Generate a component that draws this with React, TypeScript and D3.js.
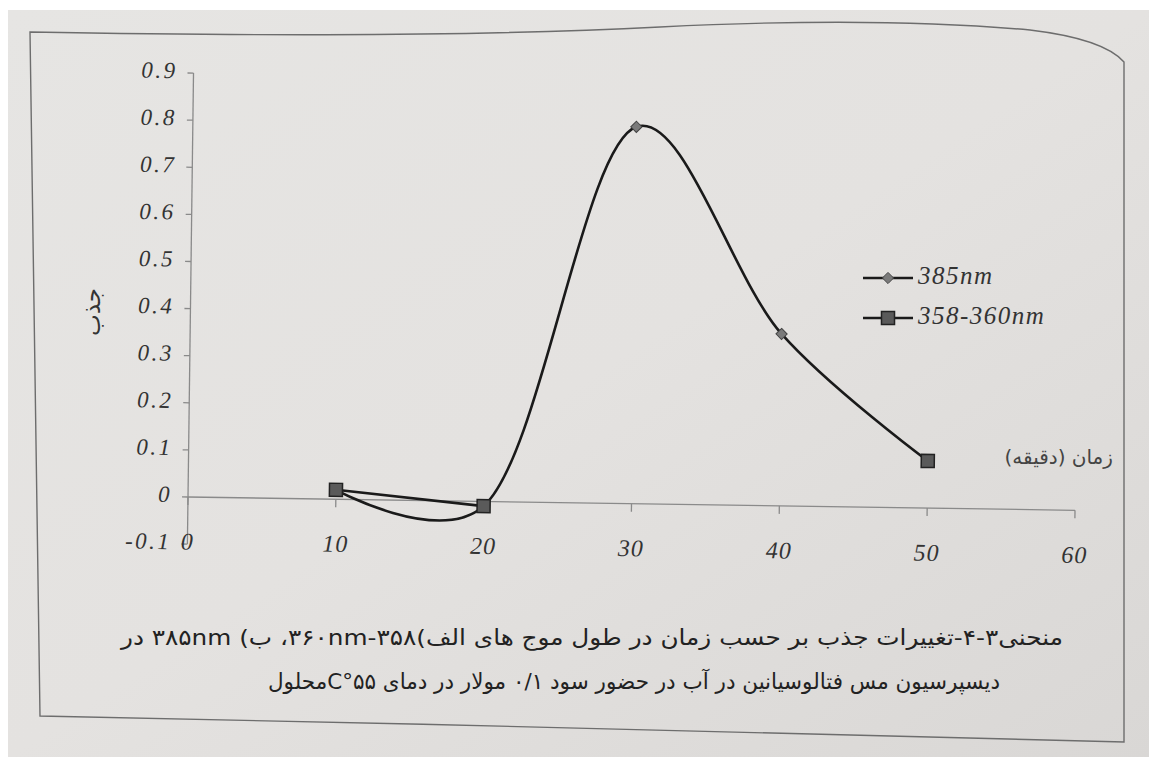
import * as d3 from "d3";

// values
const times = [10, 20, 30, 40, 50];
const abs385 = [0.02, -0.01, 0.8, 0.365, 0.1];
const abs358: (number | null)[] = [0.02, -0.01, null, null, 0.1];
const xTicks = [0, 10, 20, 30, 40, 50, 60];
const yTicks = [-0.1, 0, 0.1, 0.2, 0.3, 0.4, 0.5, 0.6, 0.7, 0.8, 0.9];
const yTickLabels = ["-0.1", "0", "0.1", "0.2", "0.3", "0.4", "0.5", "0.6", "0.7", "0.8", "0.9"];
const legendNames = ["385nm", "358-360nm"];
const yTitle = "جذب";
const xTitle = "زمان (دقیقه)";
const captionLines = [
  "منحنی۳-۴-تغییرات جذب بر حسب زمان در طول موج های الف)۳۵۸-۳۶۰nm، ب) ۳۸۵nm در",
  "دیسپرسیون مس فتالوسیانین در آب  در حضور سود ۰/۱ مولار در دمای ۵۵°Cمحلول",
];

const W = 1149;
const H = 757;
const serif = "'Liberation Serif', 'Times New Roman', serif";
const persian = "'DejaVu Sans', sans-serif";

const diamond = d3.symbol(d3.symbolDiamond2, 80)() || "";
const square = d3.symbol(d3.symbolSquare, 170)() || "";

const Marker = ({ kind, x, y }: { kind: string; x: number; y: number }) =>
  kind === "diamond" ? (
    <path d={diamond} transform={`translate(${x},${y})`} fill="#7a7a7a" stroke="#444" strokeWidth={1} />
  ) : (
    <path d={square} transform={`translate(${x},${y})`} fill="#5a5a5a" stroke="#222" strokeWidth={1.5} />
  );

const App = () => {
  // the page is photographed slightly skewed, so the plot sits in a warped frame
  const origin = [188, 497];
  const warp = "matrix(1,0.015,-0.013,1,0,0)";

  const x = d3.scaleLinear().domain([0, 60]).range([0, 887]);
  const y = d3.scaleLinear().domain([-0.1, 0.9]).range([47.1, -423.9]);

  const line385 =
    d3
      .line<number>()
      .x((_, i) => x(times[i]))
      .y((d) => y(d))
      .curve(d3.curveCatmullRom.alpha(0.25))(abs385) || "";

  const line358 =
    d3
      .line<number | null>()
      .defined((d) => d != null)
      .x((_, i) => x(times[i]))
      .y((d) => y(d as number))(abs358) || "";

  return (
    <svg
      width={W}
      height={H}
      viewBox={`0 0 ${W} ${H}`}
      style={{ position: "absolute", left: 0, top: 0 }}
    >
      <defs>
        <linearGradient id="paper" x1="0" y1="0" x2="1" y2="1">
          <stop offset="0" stopColor="#e6e5e3" />
          <stop offset="0.5" stopColor="#e4e2e0" />
          <stop offset="1" stopColor="#d9d7d5" />
        </linearGradient>
      </defs>
      <rect width={W} height={H} fill="#fff" />
      <rect x={8} y={10} width={W - 8} height={H - 10} fill="url(#paper)" />

      {/* figure frame of the page */}
      <path
        d="M30,32 C200,35 440,38 660,27 C800,20 920,20 1030,30 C1080,36 1110,46 1124,62 L1124,742 C800,735 400,722 40,716 Z"
        fill="none"
        stroke="#6d6d6d"
        strokeWidth={1.4}
      />

      <g transform={`translate(${origin[0]},${origin[1]}) ${warp}`}>
        {/* y axis */}
        <line x1={0} x2={0} y1={y(-0.1)} y2={y(0.9)} stroke="#8a8a8a" strokeWidth={1.3} />
        {yTicks.map((t, i) => (
          <g key={i} transform={`translate(0,${y(t)})`}>
            <line x1={-6} x2={0} stroke="#8a8a8a" strokeWidth={1.3} />
            <text
              x={-16}
              textAnchor="end"
              dominantBaseline="middle"
              fontFamily={serif}
              fontStyle="italic"
              fontSize={23}
              letterSpacing={2.5}
              fill="#333"
            >
              {yTickLabels[i]}
            </text>
          </g>
        ))}

        {/* x axis at zero */}
        <line x1={0} x2={x(60)} y1={y(0)} y2={y(0)} stroke="#8a8a8a" strokeWidth={1.3} />
        {xTicks.map((t) => (
          <g key={t} transform={`translate(${x(t)},0)`}>
            <line y1={y(0)} y2={y(0) + 8} stroke="#8a8a8a" strokeWidth={1.3} />
            <text
              y={y(-0.1)}
              textAnchor="middle"
              dominantBaseline="middle"
              fontFamily={serif}
              fontStyle="italic"
              fontSize={24}
              letterSpacing={1}
              fill="#333"
            >
              {t}
            </text>
          </g>
        ))}

        {/* series */}
        <path d={line385} fill="none" stroke="#1a1a1a" strokeWidth={2.6} />
        <path d={line358} fill="none" stroke="#1a1a1a" strokeWidth={2.6} />
        {abs385.map((v, i) => (
          <Marker key={`d${i}`} kind="diamond" x={x(times[i])} y={y(v)} />
        ))}
        {abs358.map((v, i) =>
          v == null ? null : <Marker key={`s${i}`} kind="square" x={x(times[i])} y={y(v)} />
        )}
      </g>

      {/* legend */}
      {legendNames.map((name, i) => (
        <g key={name} transform={`translate(863,${278 + i * 40})`}>
          <line x1={0} x2={50} stroke="#1a1a1a" strokeWidth={2.6} />
          <Marker kind={i === 0 ? "diamond" : "square"} x={25} y={0} />
          <text
            x={55}
            dominantBaseline="middle"
            fontFamily={serif}
            fontStyle="italic"
            fontSize={25}
            letterSpacing={1.5}
            fill="#333"
          >
            {name}
          </text>
        </g>
      ))}

      {/* axis titles */}
      <text
        transform="translate(93,312) rotate(-90)"
        textAnchor="middle"
        dominantBaseline="middle"
        fontFamily={persian}
        fontSize={23}
        fill="#333"
      >
        {yTitle}
      </text>
      <text
        x={1113}
        y={458}
        direction="rtl"
        textAnchor="start"
        dominantBaseline="middle"
        fontFamily={persian}
        fontSize={20}
        fill="#444"
      >
        {xTitle}
      </text>

      {/* caption */}
      {captionLines.map((line, i) => (
        <text
          key={i}
          x={i === 0 ? 592 : 634}
          y={639 + i * 44}
          direction="rtl"
          textAnchor="middle"
          dominantBaseline="middle"
          fontFamily={persian}
          fontSize={22}
          textLength={i === 0 ? 942 : 732}
          lengthAdjust="spacingAndGlyphs"
          fill="#222"
        >
          {line}
        </text>
      ))}
    </svg>
  );
};

export default App;
